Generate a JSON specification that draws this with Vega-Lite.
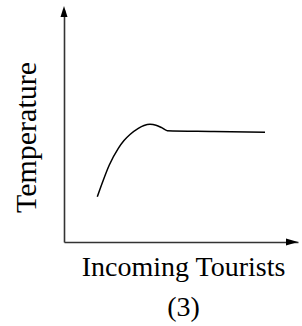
{
  "$schema": "https://vega.github.io/schema/vega-lite/v6.json",
  "width": 234,
  "height": 232,
  "autosize": "none",
  "padding": {"left": 64, "top": 10, "right": 4, "bottom": 84},
  "background": "white",
  "config": {"view": {"stroke": null}},
  "datasets": {
    "curve": [
      {"x": 33.3, "y": 45.3},
      {"x": 38.7, "y": 60.3},
      {"x": 45.3, "y": 77},
      {"x": 54.3, "y": 93.7},
      {"x": 60, "y": 101.5},
      {"x": 66, "y": 107.5},
      {"x": 74.3, "y": 113.7},
      {"x": 80, "y": 116.5},
      {"x": 86, "y": 117.7},
      {"x": 92, "y": 116.8},
      {"x": 97.7, "y": 114.3},
      {"x": 103.3, "y": 111.3},
      {"x": 150, "y": 110.6},
      {"x": 201, "y": 109.7}
    ],
    "arrows": [
      {"x": 0, "y": 230.5, "dir": "up"},
      {"x": 228, "y": 0, "dir": "right"}
    ]
  },
  "layer": [
    {
      "data": {"name": "curve"},
      "mark": {"type": "line", "color": "black", "strokeWidth": 1.5, "interpolate": "monotone"},
      "encoding": {
        "x": {
          "field": "x", "type": "quantitative",
          "scale": {"domain": [0, 234], "nice": false, "zero": false},
          "axis": {
            "title": ["Incoming Tourists", "(3)"],
            "domain": true, "domainColor": "#333333", "domainWidth": 1.6,
            "ticks": false, "labels": false, "grid": false,
            "titleFont": "Liberation Serif", "titleFontSize": 28, "titleFontWeight": "normal",
            "titleColor": "black", "titleBaseline": "alphabetic",
            "titleLineHeight": 40,
            "titleX": 119, "titleY": 33, "titleAlign": "center"
          }
        },
        "y": {
          "field": "y", "type": "quantitative",
          "scale": {"domain": [0, 232], "nice": false, "zero": false},
          "axis": {
            "title": "Temperature",
            "domain": true, "domainColor": "#333333", "domainWidth": 1.6,
            "ticks": false, "labels": false, "grid": false,
            "titleFont": "Liberation Serif", "titleFontSize": 30, "titleFontWeight": "normal",
            "titleColor": "black", "titleBaseline": "alphabetic",
            "titleAngle": 270, "titleAlign": "center",
            "titleX": -29, "titleY": 127
          }
        }
      }
    },
    {
      "data": {"name": "arrows"},
      "transform": [{"filter": "datum.dir == 'up'"}],
      "mark": {"type": "point", "filled": true, "color": "black", "opacity": 1, "size": 121, "shape": "M0,-1L0.64,1L-0.64,1Z"},
      "encoding": {
        "x": {"field": "x", "type": "quantitative"},
        "y": {"field": "y", "type": "quantitative"}
      }
    },
    {
      "data": {"name": "arrows"},
      "transform": [{"filter": "datum.dir == 'right'"}],
      "mark": {"type": "point", "filled": true, "color": "black", "opacity": 1, "size": 144, "shape": "M1,0L-1,-0.6L-1,0.6Z"},
      "encoding": {
        "x": {"field": "x", "type": "quantitative"},
        "y": {"field": "y", "type": "quantitative"}
      }
    }
  ]
}
